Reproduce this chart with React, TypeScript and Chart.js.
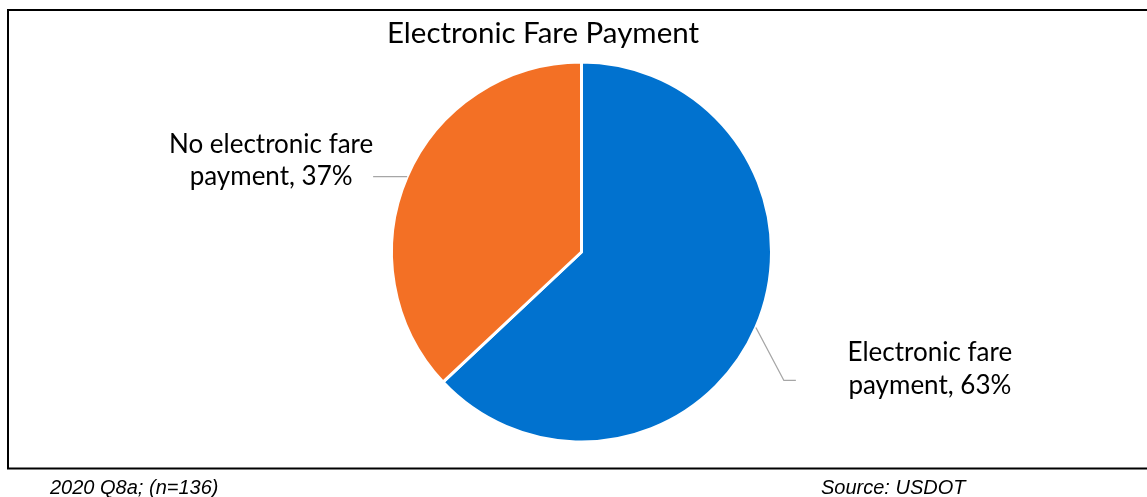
import React, { useEffect, useRef } from "react";
import { Chart, registerables } from "chart.js";

Chart.register(...registerables);

const title = "Electronic Fare Payment";
const categories = ["Electronic fare payment", "No electronic fare payment"];
const values = [63, 37];
const colors = ["#0172CF", "#F37025"];
const labelLines = [
  ["Electronic fare", "payment, 63%"],
  ["No electronic fare", "payment, 37%"],
];
const footnoteLeft = "2020 Q8a; (n=136)";
const footnoteRight = "Source: USDOT";

const W = 1147;
const H = 497;
const LABEL_FONT = "26px Lato, 'Open Sans', sans-serif";

const overlay = {
  id: "overlay",
  afterDraw(chart: any) {
    const ctx = chart.ctx as CanvasRenderingContext2D;
    ctx.save();
    // frame
    ctx.strokeStyle = "#000";
    ctx.lineWidth = 2;
    ctx.beginPath();
    ctx.moveTo(W + 5, 10);
    ctx.lineTo(8, 10);
    ctx.lineTo(8, 468.5);
    ctx.lineTo(W + 5, 468.5);
    ctx.stroke();

    // title
    ctx.fillStyle = "#000";
    ctx.font = "29.5px Lato, 'Open Sans', sans-serif";
    ctx.textAlign = "center";
    ctx.textBaseline = "alphabetic";
    ctx.fillText(title, 543, 43);

    // labels with leader lines
    const meta = chart.getDatasetMeta(0);
    meta.data.forEach((arc: any, i: number) => {
      const mid = (arc.startAngle + arc.endAngle) / 2;
      const ax = arc.x + Math.cos(mid) * arc.outerRadius;
      const ay = arc.y + Math.sin(mid) * arc.outerRadius;
      ctx.strokeStyle = "#A6A6A6";
      ctx.lineWidth = 1.3;
      ctx.beginPath();
      ctx.font = LABEL_FONT;
      ctx.fillStyle = "#000";
      ctx.textAlign = "center";
      ctx.textBaseline = "middle";
      const lines = labelLines[i];
      if (Math.cos(mid) >= 0) {
        const bx = ax + 28;
        const by = ay + 53;
        ctx.moveTo(ax, ay);
        ctx.lineTo(bx, by);
        ctx.lineTo(bx + 12, by);
        ctx.stroke();
        const cx = bx + 146;
        ctx.fillText(lines[0], cx, by - 28);
        ctx.fillText(lines[1], cx, by + 5);
      } else {
        const bx = ax - 34;
        ctx.moveTo(ax, ay);
        ctx.lineTo(bx, ay);
        ctx.stroke();
        const cx = bx - 102;
        ctx.fillText(lines[0], cx, ay - 32);
        ctx.fillText(lines[1], cx, ay);
      }
    });

    // footnotes
    ctx.font = "italic 20px 'Liberation Sans', Arial, sans-serif";
    ctx.textAlign = "left";
    ctx.textBaseline = "alphabetic";
    ctx.fillStyle = "#000";
    ctx.fillText(footnoteLeft, 50, 494);
    ctx.fillText(footnoteRight, 821, 494);
    ctx.restore();
  },
};

export default function App() {
  const ref = useRef<HTMLCanvasElement>(null);
  useEffect(() => {
    if (!ref.current) return;
    const chart = new Chart(ref.current, {
      type: "pie",
      data: {
        labels: categories,
        datasets: [
          {
            data: values,
            backgroundColor: colors,
            borderColor: "#ffffff",
            borderWidth: 3,
            hoverOffset: 0,
            radius: 190,
          } as any,
        ],
      },
      options: {
        animation: false,
        responsive: false,
        events: [],
        layout: { padding: { top: 62, bottom: 55, left: 391, right: 375 } },
        plugins: {
          legend: { display: false },
          tooltip: { enabled: false },
          title: { display: false },
        },
      },
      plugins: [overlay],
    });
    return () => chart.destroy();
  }, []);
  return (
    <div style={{ position: "fixed", left: 0, top: 0, width: W, height: H, background: "#fff" }}>
      <canvas ref={ref} width={W} height={H} style={{ width: W, height: H, display: "block" }} />
    </div>
  );
}
